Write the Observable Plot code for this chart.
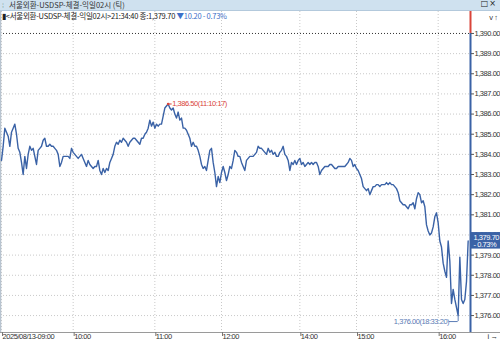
<!DOCTYPE html>
<html>
<head>
<meta charset="utf-8">
<script src="https://cdn.jsdelivr.net/npm/d3@7"></script>
<script src="https://cdn.jsdelivr.net/npm/@observablehq/plot@0.6"></script>
<style>
  html, body { margin: 0; padding: 0; background: #fff; }
  body { width: 500px; height: 341px; overflow: hidden; position: relative; font-family: "Noto Sans CJK KR", "Liberation Sans", sans-serif; }
  #bar { height: 10px; background: #cfe1ef; border-bottom: 1px solid #b3c9dc; position: relative; font-size: 7.5px; line-height: 10px; color: #333; white-space: nowrap; }
  #bar .grip { position: absolute; left: 2px; top: 0; color: #8aa; font-size: 7px; }
  #bar .title { position: absolute; left: 9px; top: 0; }
  #bar .icons { position: absolute; right: 3px; top: -1px; font-family: "DejaVu Sans", sans-serif; font-size: 8px; color: #222; letter-spacing: 1px; }
  #info { position: absolute; left: 2px; top: 11px; font-size: 7.5px; line-height: 9px; color: #222; white-space: nowrap; letter-spacing: -0.25px; }
  #info .dn { color: #3d6fc8; }
  #chart { position: absolute; left: 0; top: 11px; }
</style>
</head>
<body>
<div id="bar"><span class="grip">⁞</span><span class="title" id="title"></span><span class="icons">□×</span></div>
<div id="chart"></div>
<div id="info"></div>
<script>
// ---- data ----
const chartTitle = "서울외환-USDSP-체결-익일02시 (틱)";
const infoText = "<서울외환-USDSP-체결-익일02시>21:34:40 종:1,379.70 ";
const changeText = "▼10.20  - 0.73%";
const maxTime = "11:10:17";
const minTime = "18:33:20";
const lastChangePct = "- 0.73%";

// tick-by-tick prices (sequence order)
const prices = [
1383.7,1384.4,1385.3,1385.1,1384.9,1384.4,1385.1,1385.3,1385.5,1385.0,
1384.3,1384.1,1383.6,1383.0,1383.9,1383.3,1384.0,1384.4,1384.2,1384.3,
1383.9,1383.5,1384.2,1384.3,1384.4,1384.7,1384.8,1384.4,1384.4,1384.5,
1384.4,1384.4,1384.3,1384.2,1384.0,1383.4,1383.6,1383.9,1383.9,1383.9,
1383.9,1383.8,1384.3,1384.1,1384.0,1383.9,1383.8,1383.9,1384.0,1383.8,
1383.6,1383.4,1383.7,1383.5,1383.4,1383.3,1383.4,1383.4,1383.7,1383.2,
1383.0,1383.3,1383.1,1383.3,1383.2,1383.6,1383.8,1384.0,1384.4,1384.6,
1384.5,1384.7,1384.6,1384.8,1384.7,1384.6,1384.4,1384.6,1384.7,1384.8,
1384.8,1384.7,1384.6,1384.5,1384.8,1384.8,1385.0,1385.1,1385.3,1385.7,
1385.4,1385.6,1385.3,1385.5,1385.4,1385.5,1385.5,
1385.9,1386.3,1386.4,1386.5,1386.3,1386.2,1386.3,1386.0,1385.8,1386.1,
1385.7,1385.8,1385.3,1385.3,1385.2,1385.0,1384.8,1384.4,1384.6,1384.4,
1384.4,1384.2,1383.9,1383.5,1383.3,1383.4,1383.2,1383.7,1384.2,1384.3,
1383.6,1383.1,1382.4,1382.9,1382.6,1383.1,1383.4,1383.1,1382.7,1383.0,
1383.4,1383.3,1383.7,1384.2,1384.1,1383.9,1383.9,1383.6,1383.4,1383.2,
1383.7,1383.8,1383.9,1383.9,1383.9,1384.0,1384.1,1384.4,1384.3,1384.3,
1384.2,1384.1,1384.0,1384.3,1384.1,1384.2,1384.0,1384.1,1383.9,1383.9,
1384.1,1384.2,1384.4,1384.0,1383.9,1383.7,1383.2,1383.6,1383.5,1383.7,
1383.5,1383.7,1383.8,1383.5,1383.6,1383.4,1383.5,1383.6,1383.5,1383.6,
1383.5,1383.6,1383.6,
1383.4,1383.0,1383.2,1383.3,1383.4,1383.4,1383.4,1383.5,1383.5,1383.4,
1383.3,1383.3,1383.4,1383.4,1383.4,1383.4,1383.4,1383.5,1383.6,1383.8,
1383.7,1383.4,1383.5,1383.3,1383.2,1383.0,1382.8,1382.4,1382.3,1382.2,
1382.3,1382.0,1382.2,1382.4,1382.4,1382.5,1382.5,1382.4,1382.5,1382.5,
1382.5,1382.6,1382.5,1382.6,1382.5,1382.5,1382.4,1382.3,1382.1,1381.7,
1381.6,1381.5,1381.5,1381.4,1381.3,1381.5,1381.5,1381.6,1381.3,1381.8,
1382.1,1382.0,1381.6,1381.7,1381.4,1380.5,1380.2,1380.0,1380.1,1380.4,
1380.9,1381.1,1380.6,1379.7,1379.4,1378.6,1378.2,1377.9,1379.7,1378.7,
1376.6,1377.3,1376.8,1376.4,1376.0,1378.9,1376.8,1376.6,1376.8,1377.7,
1379.7
];

// time-axis labels placed at tick sequence numbers
const timeTicks  = [0, 43, 92, 132, 179, 213, 262];
const timeLabels = ["2025/08/13-09:00", "10:00", "11:00", "12:00", "14:00", "15:00", "16:00"];

// price-axis ticks
const priceTicks = [1376, 1377, 1378, 1379, 1380, 1381, 1382, 1383, 1384, 1385, 1386, 1387, 1388, 1389, 1390];
const refPrice = 1390;

document.getElementById("title").textContent = chartTitle;
{
  const info = document.getElementById("info");
  const a = document.createElement("span"); a.textContent = "▮" + infoText; info.appendChild(a);
  const b = document.createElement("span"); b.className = "dn"; b.textContent = changeText; info.appendChild(b);
}

const data = prices.map((v, i) => ({i, v}));
const maxIdx = d3.maxIndex(prices), minIdx = d3.minIndex(prices);
const maxVal = prices[maxIdx], minVal = prices[minIdx];
const lastIdx = prices.length - 1, lastVal = prices[lastIdx];
const fmt = d3.format(",.2f");

const xDom = [-0.6, 281.4];
const yDom = [1375.16, 1391.09];
const blue = "#3a62a6";
const red = "#d9443a";

const chart = Plot.plot({
  width: 500,
  height: 330,
  marginTop: 0,
  marginBottom: 9,
  marginLeft: 0,
  marginRight: 30,
  x: {domain: xDom, axis: null},
  y: {domain: yDom, axis: null},
  style: {fontFamily: "'Liberation Sans', Arial, sans-serif", fontSize: "7.5px", letterSpacing: "-0.45px", background: "transparent", overflow: "visible"},
  marks: [
    Plot.ruleY(priceTicks.filter(t => t !== refPrice), {stroke: "#c9c9c9", strokeDasharray: "1,2"}),
    Plot.ruleX(timeTicks, {stroke: "#c9c9c9", strokeDasharray: "1,2"}),
    Plot.ruleY([refPrice], {stroke: "#333", strokeDasharray: "1,2"}),
    Plot.ruleX([xDom[0]], {stroke: "#b8c4d0", strokeWidth: 1.5}),
    Plot.ruleY([yDom[0]], {stroke: "#9a9a9a", insetRight: -30}),
    Plot.line(data, {x: "i", y: "v", stroke: blue, strokeWidth: 1.4}),
    // current line at right edge
    Plot.ruleX([xDom[1]], {y1: yDom[0], y2: refPrice, stroke: blue, strokeWidth: 2}),
    Plot.ruleX([xDom[1]], {y1: refPrice, y2: yDom[1], stroke: red, strokeWidth: 2}),
    Plot.axisY(priceTicks, {anchor: "right", tickSize: 3, tickPadding: 1, tickFormat: fmt, fill: "#333", stroke: "#555", fontSize: 7.5}),
    Plot.axisX(timeTicks, {anchor: "bottom", tickSize: 4, tickPadding: -3, tickFormat: d => timeLabels[timeTicks.indexOf(d)], textAnchor: "start", dx: 1, fill: "#333", stroke: "#777", fontSize: 7.5}),
    // last price box
    Plot.rect([lastVal], {x1: () => xDom[1], x2: () => xDom[1], y1: d => d - 0.4, y2: d => d + 0.42, insetRight: -30, fill: blue}),
    Plot.text([lastVal], {x: () => xDom[1], y: d => d, text: d => fmt(d) + "\n" + lastChangePct, dx: 3, textAnchor: "start", fill: "white", fontSize: 7.5, lineHeight: 1.05}),
    // max annotation
    Plot.ruleY([maxVal], {x1: () => maxIdx, x2: () => maxIdx, insetRight: -4, stroke: red}),
    Plot.dot([maxVal], {x: () => maxIdx, y: d => d, r: 1.3, fill: red}),
    Plot.text([maxVal], {x: () => maxIdx, y: d => d, text: d => fmt(d) + "(" + maxTime + ")", dx: 4, textAnchor: "start", fill: red, fontSize: 7.5}),
    // min annotation
    Plot.ruleY([minVal], {x1: () => minIdx, x2: () => minIdx, insetLeft: -9, dy: 6, stroke: "#5a7bb5"}),
    Plot.ruleX([minIdx], {y1: () => minVal, y2: () => minVal, insetBottom: -6, stroke: "#5a7bb5"}),
    Plot.text([minVal], {x: () => minIdx, y: d => d, text: d => fmt(d) + "(" + minTime + ")", dx: -9, dy: 6, textAnchor: "end", fill: "#5a7bb5", fontSize: 7.5})
  ]
});
document.getElementById("chart").appendChild(chart);
</script>
</body>
</html>
